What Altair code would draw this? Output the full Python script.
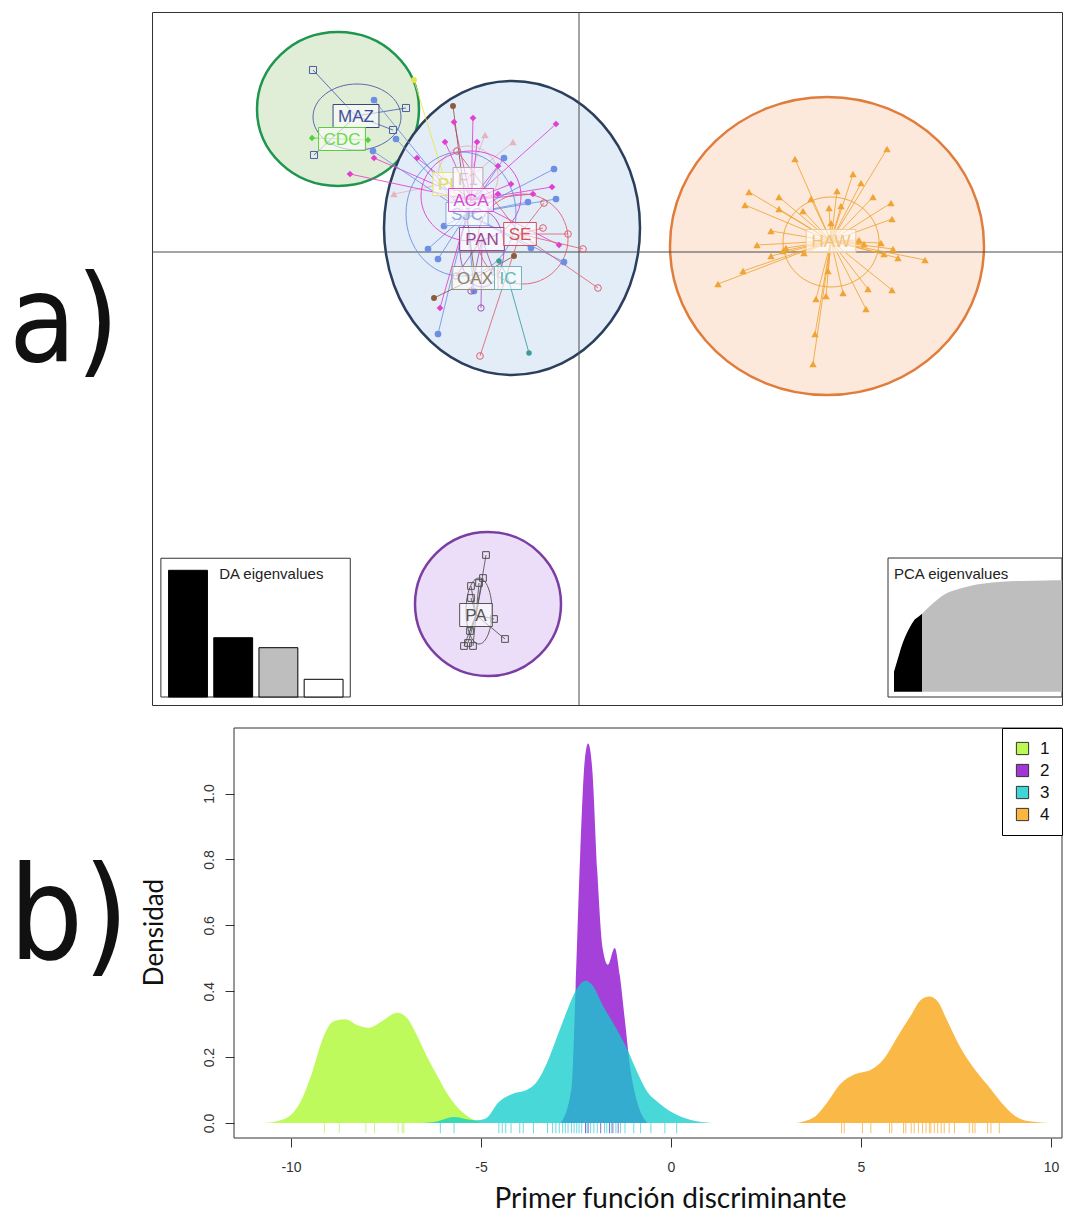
import altair as alt
import pandas as pd

# ===================== panel a) : DAPC scatter (DF1 x DF2) =====================
maz_x = [-5.32, -3.46, -3.72, -5.30]
maz_y = [3.64, 2.88, 2.44, 1.94]
cdc_x = [-5.34, -4.22]
cdc_y = [2.28, 2.24]
pi_x = [-3.30]
pi_y = [3.44]
f1_x = [-1.88, -1.32, -3.70]
f1_y = [2.34, 2.20, 1.16]
aca_x = [-2.12, -2.50, -2.68, -2.04, -0.46, -1.62, -0.54, -0.92, -1.62, -0.40, -3.24, -4.58, -4.10, -2.78, -1.36]
aca_y = [2.68, 2.60, 2.20, 2.20, 2.56, 1.72, 1.30, 1.16, 1.16, 0.14, 1.88, 1.56, 1.88, -1.12, 1.36]
sjc_x = [-4.10, -3.66, -4.12, -1.50, -0.50, -0.46, -1.02, -2.70, -3.02, -2.82, -2.82, -0.30, -0.96, -2.10]
sjc_y = [3.04, 2.26, 2.02, 1.88, 1.66, 1.06, 1.00, 0.52, 0.06, -0.14, -1.64, -0.20, 0.08, -0.78]
pan_x = [-2.16, -1.96, -2.46, -1.70]
pan_y = [-0.78, -1.12, -0.48, -0.40]
se_x = [-0.70, -0.72, -0.22, 0.08, 0.38, -1.98, -2.44]
se_y = [0.98, 0.48, 0.36, 0.06, -0.72, -2.08, 2.02]
oax_x = [-2.90, -1.30, -2.52]
oax_y = [-0.92, -0.08, 2.92]
ic_x = [-1.00, -1.60]
ic_y = [-2.02, -0.18]
haw_x = [4.32, 6.16, 5.48, 5.64, 3.40, 3.32, 4.00, 4.64, 5.16, 5.88, 6.24, 4.00, 4.48, 5.00,
         5.24, 6.26, 5.04, 3.84, 3.56, 5.60, 5.70, 6.04, 4.14, 6.28, 3.84, 6.10, 6.38, 6.92,
         3.28, 2.78, 4.98, 5.28, 5.78, 6.26, 4.74, 4.94, 5.74, 4.72, 4.68, 4.08, 4.50]
haw_y = [1.86, 2.06, 1.56, 1.38, 1.20, 0.94, 1.10, 1.06, 1.22, 1.10, 0.98, 0.86, 0.82, 0.88,
         0.92, 0.66, 0.58, 0.42, 0.14, 0.24, 0.16, 0.18, 0.08, 0.06, -0.08, -0.04, -0.12, -0.16,
         -0.38, -0.64, -0.38, -0.82, -0.74, -0.76, -0.94, -0.88, -1.14, -1.64, -2.24, 0.02, -0.02]
pa_x = [-1.86, -1.92, -2.00, -2.16, -1.70, -1.48, -2.22, -2.30, -2.12, -2.18, -2.16]
pa_y = [-6.06, -6.52, -6.62, -6.68, -7.34, -7.74, -7.82, -7.88, -7.88, -7.58, -6.92]

pop_names = ["MAZ", "CDC", "PI", "F1", "ACA", "SJC", "PAN", "SE", "OAX", "IC", "HAW", "PA"]
pop_cx = [-4.46, -4.74, -2.66, -2.22, -2.16, -2.24, -1.94, -1.18, -2.08, -1.42, 5.04, -2.06]
pop_cy = [2.72, 2.26, 1.36, 1.46, 1.04, 0.76, 0.26, 0.36, -0.52, -0.52, 0.22, -7.26]

pell_pop = ["MAZ", "F1", "ACA", "SJC", "PAN", "SE", "HAW", "PA"]
pell_cx = [-4.44, -2.22, -2.16, -2.36, -1.94, -1.12, 5.04, -2.00]
pell_cy = [2.70, 1.52, 1.12, 0.76, 0.06, 0.26, 0.20, -7.18]
pell_rx = [0.88, 0.60, 1.00, 1.10, 0.44, 0.90, 0.96, 0.26]
pell_ry = [0.66, 0.60, 0.90, 1.24, 0.76, 0.90, 0.90, 0.66]

clu_cx = [-4.82, -1.34, 4.96, -1.82]
clu_cy = [2.86, 0.48, 0.12, -7.04]
clu_rx = [1.62, 2.56, 3.14, 1.46]
clu_ry = [1.54, 2.94, 2.98, 1.44]

da_eig = [12.67, 5.93, 4.93, 1.77]
pca_pc = [1, 2, 3, 4, 5, 6, 7, 8, 10, 13, 18, 23, 28, 33, 39, 45]
pca_cum = [18, 30, 42, 51, 58, 64, 67, 70, 77, 86, 93, 97, 98.8, 99.4, 99.8, 100]
pca_retained = 8

# ===================== panel b) : densities on 1st discriminant function =====================
g1_x = [-10.69, -10.16, -9.71, -9.44, -9.16, -8.89, -8.57, -8.25, -7.94, -7.62, -7.21, -6.94,
        -6.71, -6.44, -6.16, -5.80, -5.44, -4.98]
g1_y = [0, 0.013, 0.074, 0.155, 0.257, 0.308, 0.315, 0.297, 0.289, 0.308, 0.335, 0.318,
        0.272, 0.206, 0.145, 0.074, 0.028, 0]
g2_x = [-2.90, -2.62, -2.51, -2.39, -2.27, -2.18, -2.07, -1.94, -1.80, -1.66, -1.48, -1.35,
        -1.21, -1.07, -0.89, -0.62]
g2_y = [0, 0.105, 0.41, 0.815, 1.10, 1.152, 1.07, 0.764, 0.531, 0.48, 0.531, 0.45,
        0.308, 0.165, 0.064, 0]
g3_x = [-6.66, -6.20, -5.71, -5.16, -4.89, -4.53, -4.16, -3.80, -3.53, -3.25, -2.98, -2.71,
        -2.44, -2.25, -2.07, -1.80, -1.44, -1.16, -0.89, -0.62, -0.35, 0.0, 0.5, 1.08]
g3_y = [0, 0.004, 0.018, 0.008, 0.013, 0.064, 0.089, 0.10, 0.125, 0.186, 0.267, 0.348,
        0.414, 0.432, 0.419, 0.358, 0.287, 0.226, 0.155, 0.094, 0.064, 0.034, 0.01, 0]
g4_x = [3.29, 3.77, 4.12, 4.47, 4.82, 5.31, 5.61, 5.96, 6.32, 6.58, 6.80, 7.02, 7.28, 7.63,
        7.98, 8.33, 8.68, 9.04, 9.39, 9.96]
g4_y = [0, 0.018, 0.064, 0.12, 0.147, 0.165, 0.196, 0.262, 0.328, 0.374, 0.384, 0.369,
        0.308, 0.226, 0.165, 0.115, 0.064, 0.023, 0.006, 0]
rug1 = [-9.12, -8.73, -8.03, -7.80, -7.18, -7.07, -7.03]
rug2 = [-2.25, -2.18, -1.85, -1.62, -1.53, -1.39]
rug3 = [-6.07, -5.71, -4.53, -4.44, -4.35, -4.21, -3.98, -3.89, -3.62, -3.25, -3.12, -3.03,
        -2.94, -2.85, -2.78, -2.71, -2.62, -2.55, -2.48, -2.42, -2.35, -2.21, -2.12, -2.03,
        -1.94, -1.75, -1.69, -1.57, -1.45, -1.33, -1.21, -0.98, -0.80, -0.53, -0.16, 0.15]
rug4 = [4.49, 4.56, 5.04, 5.26, 5.75, 5.81, 6.12, 6.18, 6.32, 6.40, 6.51, 6.62, 6.71, 6.80,
        6.84, 6.93, 7.02, 7.11, 7.19, 7.32, 7.46, 7.85, 7.94, 8.00, 8.33, 8.42, 8.64]
groups = ["1", "2", "3", "4"]

# ===================== styles / layout =====================
FONT = "Liberation Sans, Arial, sans-serif"
TFONT = "Lato, Open Sans, sans-serif"
LFONT = "Liberation Sans Narrow, DejaVu Sans Condensed, sans-serif"
PX = 50.0
A_W, A_H = 910, 693
A_XD = [-8.54, -8.54 + A_W / PX]
A_YD = [-9.06, 4.80]
B_W, B_H = A_W, 410
B_SHIFT = 82
B_PPU = 38.0
B_XD = [-11.5 - B_SHIFT / B_PPU, -11.5 - B_SHIFT / B_PPU + B_W / B_PPU]
B_FX = [-11.5, B_XD[1]]
B_YD = [-0.0455, 1.199]
DA_XD = [0.2035, 0.2035 + A_W / 45.2]
PC_XD = [-184.5, -184.5 + A_W / 4.0]

clu_fill = ["#e1eed7", "#e3edf8", "#fce9dc", "#ecdef8"]
clu_stroke = ["#1e9650", "#2b3f5c", "#e07d3c", "#7a3ea2"]
pop_style = {
    "MAZ": ("#4b5cad", "square", False, 50, "#3f4f9f", "#3a477f"),
    "CDC": ("#55d23a", "diamond", True, 40, "#6fd84a", "#5ccc3c"),
    "PI":  ("#e6e64a", "circle", True, 35, "#e0df5a", "#e6e36a"),
    "F1":  ("#e6b4bc", "triangle-up", True, 55, "#d9c3cb", "#b9a4ac"),
    "ACA": ("#e03fcf", "diamond", True, 45, "#d84ad0", "#d84ad0"),
    "SJC": ("#6d8fe3", "circle", True, 45, "#8fa9e0", "#8fa9e0"),
    "PAN": ("#a64fb5", "circle", False, 40, "#9a4696", "#9a4696"),
    "SE":  ("#e0606e", "circle", False, 45, "#d8505e", "#d8505e"),
    "OAX": ("#8c5a3c", "circle", True, 35, "#8f7f68", "#9a9080"),
    "IC":  ("#3a9c9c", "circle", True, 30, "#5ab8b8", "#6ab8b8"),
    "HAW": ("#f0a434", "triangle-up", True, 55, "#f3c27f", "#f3c891"),
    "PA":  ("#505050", "square", False, 45, "#555555", "#555555"),
}
grp_col = ["#aaf829", "#8a07cc", "#11cccc", "#f9a40f"]
rug_col = ["#b5f060", "#6a3ac0", "#3ccfd6", "#f2ad3a"]
CHW = {"M": 833, "A": 667, "Z": 611, "C": 722, "D": 722, "P": 667, "I": 278, "F": 611,
       "1": 556, "S": 667, "J": 500, "N": 722, "E": 667, "O": 778, "X": 667, "H": 722, "W": 944}


def ellipse_path(rx, ry):
    m = max(rx, ry)
    a, b, c = rx / m, ry / m, 0.5523
    f = lambda v: f"{v:.4f}"
    return (f"M {f(-a)} 0 C {f(-a)} {f(-c*b)} {f(-c*a)} {f(-b)} 0 {f(-b)} "
            f"C {f(c*a)} {f(-b)} {f(a)} {f(-c*b)} {f(a)} 0 "
            f"C {f(a)} {f(c*b)} {f(c*a)} {f(b)} 0 {f(b)} "
            f"C {f(-c*a)} {f(b)} {f(-a)} {f(c*b)} {f(-a)} 0 Z")


def AX(field):
    return alt.X(field, type="quantitative", axis=None,
                 scale=alt.Scale(domain=A_XD, nice=False, zero=False))


def AY(field):
    return alt.Y(field, type="quantitative", axis=None,
                 scale=alt.Scale(domain=A_YD, nice=False, zero=False))


scores = {"MAZ": (maz_x, maz_y), "CDC": (cdc_x, cdc_y), "PI": (pi_x, pi_y), "F1": (f1_x, f1_y),
          "ACA": (aca_x, aca_y), "SJC": (sjc_x, sjc_y), "PAN": (pan_x, pan_y), "SE": (se_x, se_y),
          "OAX": (oax_x, oax_y), "IC": (ic_x, ic_y), "HAW": (haw_x, haw_y), "PA": (pa_x, pa_y)}
cent = {p: (x, y) for p, x, y in zip(pop_names, pop_cx, pop_cy)}
rows = []
for p, (xs, ys) in scores.items():
    col, shp, filled, sz, _, _ = pop_style[p]
    for x, y in zip(xs, ys):
        rows.append({"pop": p, "x": x, "y": y, "cx": cent[p][0], "cy": cent[p][1],
                     "col": col, "shape": shp, "filled": filled, "psize": sz})
df_ind = pd.DataFrame(rows)

df_clu = pd.DataFrame({
    "cx": clu_cx, "cy": clu_cy,
    "path": [ellipse_path(a, b) for a, b in zip(clu_rx, clu_ry)],
    "size": [(2 * max(a, b) * PX) ** 2 for a, b in zip(clu_rx, clu_ry)],
    "fill": clu_fill, "stroke": clu_stroke})

df_pell = pd.DataFrame({
    "cx": pell_cx, "cy": pell_cy,
    "path": [ellipse_path(a, b) for a, b in zip(pell_rx, pell_ry)],
    "size": [(2 * max(a, b) * PX) ** 2 for a, b in zip(pell_rx, pell_ry)],
    "col": [pop_style[p][0] for p in pell_pop]})

zero = pd.DataFrame({"z": [0.0]})

clusters = alt.Chart(df_clu).mark_point(filled=True, opacity=1, strokeWidth=2.5).encode(
    x=AX("cx"), y=AY("cy"),
    shape=alt.Shape("path:N", scale=None), size=alt.Size("size:Q", scale=None),
    fill=alt.Fill("fill:N", scale=None), stroke=alt.Stroke("stroke:N", scale=None))
vline = alt.Chart(zero).mark_rule(color="#4a4a4a", strokeWidth=1).encode(x=AX("z"))
hline = alt.Chart(zero).mark_rule(color="#4a4a4a", strokeWidth=1).encode(y=AY("z"))
spokes = alt.Chart(df_ind).mark_rule(strokeWidth=1, opacity=0.85).encode(
    x=AX("x"), y=AY("y"), x2=alt.X2("cx"), y2=alt.Y2("cy"),
    color=alt.Color("col:N", scale=None))
pells = alt.Chart(df_pell).mark_point(filled=False, opacity=0.9, strokeWidth=1).encode(
    x=AX("cx"), y=AY("cy"),
    shape=alt.Shape("path:N", scale=None), size=alt.Size("size:Q", scale=None),
    color=alt.Color("col:N", scale=None))
pts_f = alt.Chart(df_ind[df_ind["filled"]]).mark_point(filled=True, opacity=1).encode(
    x=AX("x"), y=AY("y"), shape=alt.Shape("shape:N", scale=None),
    size=alt.Size("psize:Q", scale=None), color=alt.Color("col:N", scale=None))
pts_o = alt.Chart(df_ind[~df_ind["filled"]]).mark_point(filled=False, opacity=1, strokeWidth=1).encode(
    x=AX("x"), y=AY("y"), shape=alt.Shape("shape:N", scale=None),
    size=alt.Size("psize:Q", scale=None), color=alt.Color("col:N", scale=None))

label_order = ["PI", "F1", "SJC", "ACA", "PAN", "SE", "OAX", "IC", "MAZ", "CDC", "HAW", "PA"]
label_layers = []
for p in label_order:
    cx, cy = cent[p]
    wpx = sum(CHW[ch] for ch in p) * 17 / 1000 + 10
    hpx = 23
    lab = pd.DataFrame({"lab": [p], "cx": [cx], "cy": [cy],
                        "x0": [cx - wpx / 2 / PX], "x1": [cx + wpx / 2 / PX],
                        "y0": [cy - hpx / 2 / PX], "y1": [cy + hpx / 2 / PX]})
    box = alt.Chart(lab).mark_rect(fill="white", fillOpacity=0.6, strokeWidth=1,
                                   stroke=pop_style[p][5]).encode(
        x=AX("x0"), x2=alt.X2("x1"), y=AY("y0"), y2=alt.Y2("y1"))
    txt = alt.Chart(lab).mark_text(font=FONT, fontSize=17, align="center", baseline="middle",
                                   dy=1, color=pop_style[p][4]).encode(
        x=AX("cx"), y=AY("cy"), text="lab:N")
    label_layers += [box, txt]

letter_a = alt.Chart(pd.DataFrame({"t": ["a)"]})).mark_text(
    font=LFONT, fontSize=122, align="left", baseline="alphabetic", color="#111111").encode(
    text="t:N", x=alt.value(-143), y=alt.value(349))

main = alt.layer(clusters, vline, hline, spokes, pells, pts_f, pts_o, *label_layers, letter_a)

DA_XS = alt.Scale(domain=DA_XD, nice=False, zero=False)
DA_YS = alt.Scale(domain=[-0.8, 68.5], nice=False, zero=False)
n = len(da_eig)
df_da = pd.DataFrame({"i": list(range(1, n + 1)), "v": da_eig,
                      "col": ["#000000", "#000000", "#bebebe", "#ffffff"]})
df_da["x0"] = df_da["i"] - 0.43
df_da["x1"] = df_da["i"] + 0.43
df_da["base"] = 0.0
df_daf = pd.DataFrame({"x0": [0.40], "x1": [n + 0.59], "y0": [0.0], "y1": [max(da_eig) * 1.095],
                       "t": ["DA eigenvalues"], "tx": [1.69], "ty": [max(da_eig) * 0.97]})
da_frame = alt.Chart(df_daf).mark_rect(fill="white", stroke="#333333", strokeWidth=1).encode(
    x=alt.X("x0:Q", scale=DA_XS, axis=None), x2="x1",
    y=alt.Y("y0:Q", scale=DA_YS, axis=None), y2="y1")
da_bars = alt.Chart(df_da).mark_rect(stroke="black", strokeWidth=1).encode(
    x=alt.X("x0:Q", scale=DA_XS, axis=None), x2="x1",
    y=alt.Y("v:Q", scale=DA_YS, axis=None), y2="base",
    fill=alt.Fill("col:N", scale=None))
da_title = alt.Chart(df_daf).mark_text(font=FONT, fontSize=15, align="left", baseline="middle",
                                       color="#222222").encode(
    x=alt.X("tx:Q", scale=DA_XS, axis=None), y=alt.Y("ty:Q", scale=DA_YS, axis=None), text="t:N")
da_inset = alt.layer(da_frame, da_bars, da_title)

PC_XS = alt.Scale(domain=PC_XD, nice=False, zero=False)
PC_YS = alt.Scale(domain=[-11.94, 610.14], nice=False, zero=False)
df_pca = pd.DataFrame({"pc": pca_pc, "cum": pca_cum})
df_pca["base"] = 0.0
df_pcf = pd.DataFrame({"x0": [-0.5], "x1": [PC_XD[1]], "y0": [-4.76], "y1": [120.0],
                       "t": ["PCA eigenvalues"], "tx": [1.0], "ty": [105.7]})
pca_frame = alt.Chart(df_pcf).mark_rect(fill="white", stroke="#333333", strokeWidth=1,
                                        clip=True).encode(
    x=alt.X("x0:Q", scale=PC_XS, axis=None), x2="x1",
    y=alt.Y("y0:Q", scale=PC_YS, axis=None), y2="y1")
pca_grey = alt.Chart(df_pca[df_pca["pc"] >= pca_retained]).mark_area(
    interpolate="monotone", color="#bebebe", clip=True).encode(
    x=alt.X("pc:Q", scale=PC_XS, axis=None), y=alt.Y("cum:Q", scale=PC_YS, axis=None), y2="base")
pca_black = alt.Chart(df_pca[df_pca["pc"] <= pca_retained]).mark_area(
    interpolate="monotone", color="black", clip=True).encode(
    x=alt.X("pc:Q", scale=PC_XS, axis=None), y=alt.Y("cum:Q", scale=PC_YS, axis=None), y2="base")
pca_title = alt.Chart(df_pcf).mark_text(font=FONT, fontSize=15, align="left", baseline="middle",
                                        color="#222222").encode(
    x=alt.X("tx:Q", scale=PC_XS, axis=None), y=alt.Y("ty:Q", scale=PC_YS, axis=None), text="t:N")
pca_inset = alt.layer(pca_frame, pca_grey, pca_black, pca_title)

panel_a = alt.layer(main, da_inset, pca_inset).resolve_scale(
    x="independent", y="independent").properties(
    width=A_W, height=A_H, view=alt.ViewBackground(stroke="#333333", strokeWidth=1))

dens_rows = []
for g, xs, ys in zip(groups, [g1_x, g2_x, g3_x, g4_x], [g1_y, g2_y, g3_y, g4_y]):
    for x, y in zip(xs, ys):
        dens_rows.append({"g": g, "x": x, "d": y, "base": 0.0})
df_dens = pd.DataFrame(dens_rows)
rug_rows = []
for g, vals, c in zip(groups, [rug1, rug2, rug3, rug4], rug_col):
    for v in vals:
        rug_rows.append({"g": g, "x": v, "r0": 0.0, "r1": -0.031, "col": c})
df_rug = pd.DataFrame(rug_rows)

BX = alt.Scale(domain=B_XD, nice=False, zero=False)
BY = alt.Scale(domain=B_YD, nice=False, zero=False)
x_axis = alt.Axis(values=[-10, -5, 0, 5, 10], labelExpr="'' + datum.value", grid=False,
                  domain=False, tickSize=9, tickColor="#333333", labelFont=FONT, labelFontSize=14,
                  labelColor="#333333", labelPadding=13, title="Primer función discriminante",
                  titleFont=TFONT, titleFontSize=28, titleFontWeight="normal", titleColor="#111111",
                  titleX=518, titleY=69, titleBaseline="alphabetic", titleAlign="center")
y_axis = alt.Axis(values=[0, 0.2, 0.4, 0.6, 0.8, 1.0], format=".1f", grid=False, domain=False,
                  offset=-B_SHIFT,
                  tickSize=9, tickColor="#333333", labelFont=FONT, labelFontSize=14,
                  labelColor="#333333", labelAngle=270, labelAlign="center",
                  labelBaseline="bottom", labelPadding=9, title="Densidad", titleFont=TFONT,
                  titleFontSize=26, titleFontWeight="normal", titleColor="#111111",
                  titleAngle=270, titleX=-72, titleY=204, titleAlign="center",
                  titleBaseline="alphabetic")
legend = alt.Legend(title=None, orient="top-right", offset=0, padding=12, strokeColor="black",
                    fillColor="white", symbolType="square", symbolSize=150,
                    symbolStrokeColor="black", symbolStrokeWidth=1, symbolOpacity=0.8,
                    labelFont=FONT, labelFontSize=17, labelColor="#111111", rowPadding=4,
                    labelOffset=9, cornerRadius=0)
cscale = alt.Scale(domain=groups, range=grp_col)

frame_b = alt.Chart(pd.DataFrame({"x0": [B_FX[0]], "x1": [B_FX[1]],
                                  "y0": [B_YD[0]], "y1": [B_YD[1]]})).mark_rect(
    fill="transparent", stroke="#333333", strokeWidth=1).encode(
    x=alt.X("x0:Q", scale=BX, axis=x_axis), x2="x1",
    y=alt.Y("y0:Q", scale=BY, axis=y_axis), y2="y1")
dens_layers = []
for g in groups:
    dens_layers.append(
        alt.Chart(df_dens[df_dens["g"] == g]).mark_area(interpolate="monotone", opacity=0.77).encode(
            x=alt.X("x:Q", scale=BX, axis=x_axis),
            y=alt.Y("d:Q", scale=BY, axis=y_axis), y2="base",
            color=alt.Color("g:N", scale=cscale, legend=legend)))
rug = alt.Chart(df_rug).mark_rule(strokeWidth=1, opacity=0.75).encode(
    x=alt.X("x:Q", scale=BX, axis=x_axis), y=alt.Y("r0:Q", scale=BY, axis=y_axis), y2="r1",
    stroke=alt.Stroke("col:N", scale=None))
letter_b = alt.Chart(pd.DataFrame({"t": ["b)"]})).mark_text(
    font=LFONT, fontSize=130, align="left", baseline="alphabetic", color="#111111").encode(
    text="t:N", x=alt.value(-143), y=alt.value(231))
panel_b = alt.layer(frame_b, *dens_layers, rug, letter_b).properties(
    width=B_W, height=B_H, view=alt.ViewBackground(stroke="transparent"))

chart = alt.vconcat(panel_a, panel_b, spacing=23, bounds="flush").resolve_scale(
    color="independent").properties(
    padding={"left": 0, "top": 3, "right": 0, "bottom": 0}
).configure(font=FONT)

chart.save("out.html", embed_options={"renderer": "svg", "actions": False})
